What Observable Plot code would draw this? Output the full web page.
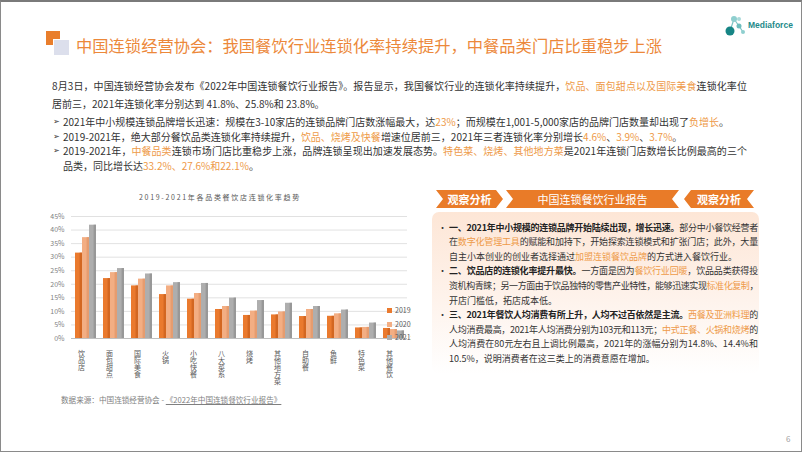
<!DOCTYPE html>
<html><head><meta charset="utf-8">
<script src="https://cdn.jsdelivr.net/npm/d3@7"></script>
<script src="https://cdn.jsdelivr.net/npm/@observablehq/plot@0.6"></script>
<style>
html,body{margin:0;padding:0;background:#fff;}
#page{position:relative;width:802px;height:452px;box-sizing:border-box;border:1.5px solid #8a8a8a;border-top:2px solid #7a7a7a;overflow:hidden;font-family:"Noto Sans CJK SC","Noto Sans",sans-serif;color:#333;}
.abs{position:absolute;white-space:nowrap;}
.o{color:#EE9A48;}
.line{font-size:10px;line-height:14px;}
.pl{font-size:9px;line-height:13px;}
.b{font-weight:700;color:#222;}
.ban{position:absolute;top:188px;height:18px;background:#E97B28;color:#fff;font-size:11px;line-height:18px;text-align:center;}
</style></head>
<body><div id="page"></div>
<script>
const categories = ["饮品店","面包甜点","国际美食","火锅","小吃快餐","八大菜系","烧烤","其他地方菜","自助餐","鱼鲜","特色菜","其他餐饮"];
const years = ["2019年","2020年","2021年"];
const v2019 = [31.5,22.1,19.4,16.2,14.5,10.7,8.5,8.7,8.1,8.2,3.9,3.7];
const v2020 = [37.2,24.3,21.9,19.4,16.6,11.8,10.1,9.8,10.7,9.1,4.1,3.3];
const v2021 = [41.8,25.8,23.8,20.6,20.3,14.9,14.0,13.0,11.8,10.5,5.7,2.8];
const yTicks = [0,5,10,15,20,25,30,35,40,45];
const colors = ["#EA7A2E","#F3AE83","#AEAEAE"];
const darker = ["#C9601C","#DF9466","#8E8E8E"];

const page = document.getElementById("page");
function add(html, style, cls){const d=document.createElement("div");d.className="abs "+(cls||"");d.setAttribute("style",style);d.innerHTML=html;page.appendChild(d);return d;}
// stretch/compress a single line to a target width via letter-spacing
function fit(el, target){
  const w = el.getBoundingClientRect().width;
  const n = el.textContent.length;
  el.style.letterSpacing = ((target - w) / n) + "px";
}

// title icon + title
add("", "left:45px;top:29px;width:14px;height:14px;background:#E97E2C;");
add("", "left:52px;top:37px;width:15px;height:15px;background:#DCDFEC;border-left:1.5px solid #fff;border-top:1.5px solid #fff;");
add("中国连锁经营协会：我国餐饮行业连锁化率持续提升，中餐品类门店比重稳步上涨", "left:75px;top:31px;font-size:16.3px;line-height:24px;color:#EC883A;");
// logo
add(`<svg width="24" height="24" viewBox="0 0 24 24"><line x1="7" y1="18" x2="11" y2="6" stroke="#7cc4c4" stroke-width="1.2"/><line x1="11" y1="6" x2="16" y2="13" stroke="#7cc4c4" stroke-width="1.2"/><line x1="16" y1="13" x2="20" y2="19" stroke="#7cc4c4" stroke-width="1.2"/><circle cx="11" cy="6" r="3" fill="#8fcfcf"/><circle cx="16" cy="13" r="2.5" fill="#6dbdbd"/><circle cx="20" cy="19" r="2" fill="#8fcfcf"/><circle cx="16" cy="6" r="2" fill="#a9dada"/><circle cx="7" cy="18" r="4.5" fill="#178585"/></svg>`, "left:722px;top:11px;width:24px;height:24px;");
add("Mediaforce", "left:747px;top:18px;font-family:'Liberation Sans',Arial,sans-serif;font-weight:700;font-size:8.5px;color:#1E8A8A;");

// left text
fit(add(`8月3日，中国连锁经营协会发布《2022年中国连锁餐饮行业报告》。报告显示，我国餐饮行业的连锁化率持续提升，<span class="o">饮品、面包甜点以及国际美食</span>连锁化率位`, "left:51px;top:77px;", "line"), 695);
add(`居前三，2021年连锁化率分别达到 41.8%、25.8%和 23.8%。`, "left:51px;top:95px;", "line");
const bul = (y)=>add("➢", `left:52px;top:${y}px;font-family:'DejaVu Sans';font-size:8px;line-height:14px;`);
bul(113);
add(`2021年中小规模连锁品牌增长迅速：规模在3-10家店的连锁品牌门店数涨幅最大，达<span class="o">23%</span>；而规模在1,001-5,000家店的品牌门店数量却出现了<span class="o">负增长</span>。`, "left:62px;top:113px;", "line");
bul(127.5);
add(`2019-2021年，绝大部分餐饮品类连锁化率持续提升，<span class="o">饮品、烧烤及快餐</span>增速位居前三，2021年三者连锁化率分别增长<span class="o">4.6%</span>、<span class="o">3.9%</span>、<span class="o">3.7%</span>。`, "left:62px;top:127.5px;", "line");
bul(142);
fit(add(`2019-2021年，<span class="o">中餐品类</span>连锁市场门店比重稳步上涨，品牌连锁呈现出加速发展态势。<span class="o">特色菜、烧烤、其他地方菜</span>是2021年连锁门店数增长比例最高的三个`, "left:62px;top:142px;", "line"), 684);
add(`品类，同比增长达<span class="o">33.2%、27.6%和22.1%</span>。`, "left:62px;top:156.5px;", "line");

// banners
add("观察分析", "left:435px;width:67px;font-weight:700;clip-path:polygon(0 0,60px 0,67px 9px,60px 18px,0 18px,7px 9px);", "ban");
add("中国连锁餐饮行业报告", "left:505px;width:173px;clip-path:polygon(0 0,173px 0,166px 9px,173px 18px,0 18px,7px 9px);", "ban");
add("观察分析", "left:683px;width:70px;font-weight:700;clip-path:polygon(7px 0,70px 0,63px 9px,70px 18px,7px 18px,0 9px);", "ban");

// panel
add("", "left:431px;top:210px;width:327px;height:162px;border-radius:7px;background:linear-gradient(180deg,#FDE6D6 0%,#FEF3EC 55%,#FFFFFF 100%);");
const pY = (i)=>218.5 + 14.6*i;
const pLines = [
  [true, `<span class="b">一、2021年中小规模的连锁品牌开始陆续出现，增长迅速。</span>部分中小餐饮经营者`, true],
  [false, `在<span class="o">数字化管理工具</span>的赋能和加持下，开始探索连锁模式和扩张门店；此外，大量`, true],
  [false, `自主小本创业的创业者选择通过<span class="o">加盟连锁餐饮品牌</span>的方式进入餐饮行业。`, false],
  [true, `<span class="b">二、饮品店的连锁化率提升最快。</span>一方面是因为<span class="o">餐饮行业回暖</span>，饮品品类获得投`, true],
  [false, `资机构青睐；另一方面由于饮品独特的零售产业特性，能够迅速实现<span class="o">标准化复制</span>，`, true],
  [false, `开店门槛低，拓店成本低。`, false],
  [true, `<span class="b">三、2021年餐饮人均消费有所上升，人均不过百依然是主流。</span><span class="o">西餐及亚洲料理</span>的`, true],
  [false, `人均消费最高，2021年人均消费分别为103元和113元；<span class="o">中式正餐、火锅和烧烤</span>的`, true],
  [false, `人均消费在80元左右且上调比例最高，2021年的涨幅分别为14.8%、14.4%和`, true],
  [false, `10.5%，说明消费者在这三类上的消费意愿在增加。`, false]
];
pLines.forEach(([bullet, html, just], i)=>{
  if (bullet) add("•", `left:437px;top:${pY(i)}px;`, "pl");
  const el = add(html, `left:448px;top:${pY(i)}px;`, "pl");
  if (just) fit(el, 309);
});

// chart title
add("2019-2021年各品类餐饮店连锁化率趋势", "left:138px;top:190px;font-size:7px;line-height:10px;letter-spacing:1.7px;color:#595959;");

// chart
const data = [];
categories.forEach((c,i)=>{
  data.push({category:c, year:years[0], value:v2019[i]});
  data.push({category:c, year:years[1], value:v2020[i]});
  data.push({category:c, year:years[2], value:v2021[i]});
});
const chart = Plot.plot({
  width: 374, height: 200,
  marginLeft: 31, marginRight: 5, marginTop: 29, marginBottom: 49,
  style: {fontFamily: "'Noto Sans CJK SC', sans-serif", background: "transparent", overflow: "visible"},
  fx: {domain: categories, padding: 0, label: null},
  x: {domain: years, paddingInner: 0.06, paddingOuter: 0.5, axis: null},
  y: {domain: [0, 45], label: null},
  color: {domain: years, range: colors},
  marks: [
    Plot.gridY(yTicks.filter(d => d > 0), {stroke: "#D9D9D9", strokeOpacity: 1, strokeWidth: 0.8}),
    Plot.axisY({ticks: yTicks, tickSize: 0, tickPadding: 7, tickFormat: d => d + "%", fontSize: 7, fill: "#7F7F7F", label: null}),
    Plot.barY(data, {fx: "category", x: "year", y: "value", fill: "year"}),
    Plot.barY(data, {fx: "category", x: "year", y: "value", fill: d => darker[years.indexOf(d.year)], insetLeft: 4.6, fillOpacity: 0.7}),
    Plot.ruleY([0], {stroke: "#BFBFBF", strokeWidth: 1}),
    Plot.axisFx({anchor: "bottom", tickSize: 0, tickPadding: 6, fontSize: 7, fill: "#595959", dx: -4, label: null})
  ]
});
// stack the category labels vertically (one character per row), as in the reference
const fxg = chart.querySelector('g[aria-label="fx-axis tick label"]');
if (fxg) {
  fxg.setAttribute("text-anchor", "start");
  fxg.querySelectorAll("text").forEach(t => {
    t.setAttribute("text-anchor", "start");
    t.setAttribute("dy", "0");
    t.setAttribute("writing-mode", "tb");
    t.style.writingMode = "vertical-rl";
    t.style.textOrientation = "upright";
    t.style.letterSpacing = "0.2px";
  });
}
const holder = add("", "left:38px;top:185px;");
holder.appendChild(chart);

// legend (clipped like the reference)
const leg = add("", "left:386px;top:304px;width:24px;height:40px;overflow:hidden;");
years.forEach((y,i)=>{
  const r = document.createElement("div");
  r.setAttribute("style", `position:absolute;left:0;top:${i*13.5}px;font-size:7px;line-height:9px;color:#595959;white-space:nowrap;`);
  r.innerHTML = `<span style="display:inline-block;width:5px;height:5px;background:${colors[i]};margin-right:3px;vertical-align:0px;"></span>${y}`;
  leg.appendChild(r);
});

// source
add(`数据来源：中国连锁经营协会 - <span style="text-decoration:underline;">《2022年中国连锁餐饮行业报告》</span>`, "left:60px;top:392px;font-size:7.6px;line-height:11px;color:#7F7F7F;");
// page number
add("6", "left:785px;top:431px;font-size:8px;line-height:11px;color:#A0A0A0;");
</script>
</body></html>
